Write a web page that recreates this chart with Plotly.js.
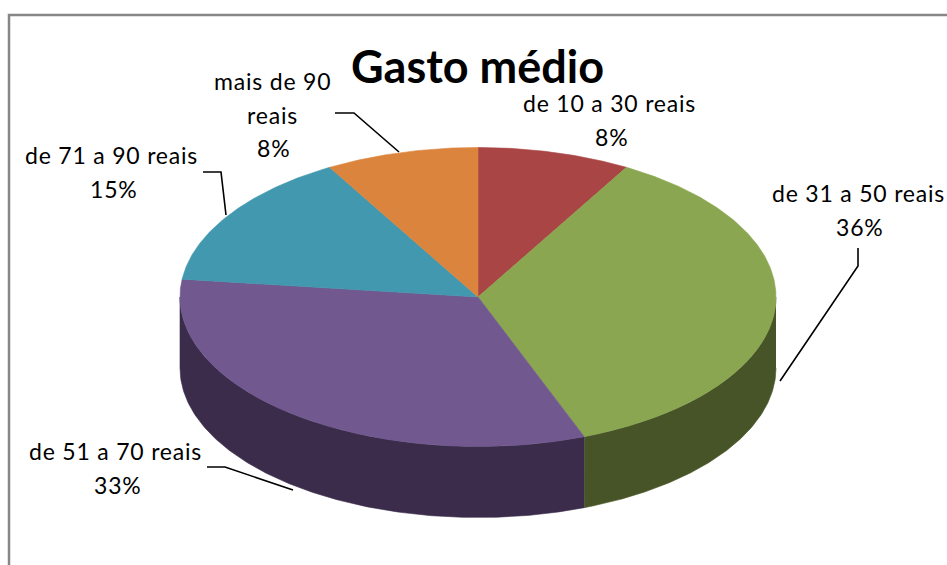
<!DOCTYPE html>
<html><head><meta charset="utf-8">
<script src="https://cdn.plot.ly/plotly-3.0.1.min.js"></script>
<style>html,body{margin:0;padding:0;background:#fff}#c{width:947px;height:565px}
.annotation-text{letter-spacing:.8px}</style>
</head><body><div id="c"></div>
<script>
const categories = ["de 10 a 30 reais","de 31 a 50 reais","de 51 a 70 reais","de 71 a 90 reais","mais de 90 reais"];
const values = [8.3,35.9,32.7,14.8,8.3];
const topColors = ["#A94645","#8AA650","#71588F","#4198AF","#DB843D"];
const sideColors = ["#5F2726","#475427","#3A2C4A","#215060","#7A4A22"];
const labelLines = [["de 10 a 30 reais"],["de 31 a 50 reais"],["de 51 a 70 reais"],["de 71 a 90 reais"],["mais de 90","reais"]];
const labelAnchor = [[609.5,103],[858,193],[115.5,451],[111.5,155],[272,81]];
const percentShift = [2,2,2,2,1];
const linePitch = 33.5;
const leaders = [null,[[858,248],[858,266],[780,381]],[[207,467],[225,467],[293,490]],[[203,172],[221,172],[226,215]],[[335,113],[354,113],[399,152]]];

const cx=478, cy=297, rx=298, ry=149.5, depth=71;
const px=a=>cx+rx*Math.sin(a), py=a=>cy-ry*Math.cos(a);
const total=values.reduce((s,v)=>s+v,0);
const traces=[];
function arc(a0,a1){const n=Math.max(2,Math.ceil((a1-a0)/0.01));const out=[];for(let i=0;i<=n;i++)out.push(a0+(a1-a0)*i/n);return out;}
let cum=0; const spans=values.map(v=>{const a0=cum/total*2*Math.PI;cum+=v;return [a0,cum/total*2*Math.PI];});
spans.forEach((s,i)=>{
  const a0=Math.max(s[0],Math.PI/2), a1=Math.min(s[1],3*Math.PI/2);
  if(a1<=a0) return;
  const A=arc(a0,a1);
  traces.push({x:A.map(px).concat(A.slice().reverse().map(px)),
    y:A.map(a=>py(a)+depth).concat(A.slice().reverse().map(py)),
    mode:'lines',fill:'toself',fillcolor:sideColors[i],line:{width:0.6,color:sideColors[i]},hoverinfo:'skip',name:categories[i]});
});
spans.forEach((s,i)=>{
  const A=arc(s[0],s[1]);
  traces.push({x:[cx].concat(A.map(px),[cx]),y:[cy].concat(A.map(py),[cy]),
    mode:'lines',fill:'toself',fillcolor:topColors[i],line:{width:0.6,color:topColors[i]},hoverinfo:'skip',name:categories[i]});
});
leaders.forEach(l=>{ if(l) traces.push({x:l.map(p=>p[0]),y:l.map(p=>p[1]),mode:'lines',line:{color:'#000',width:1.6},hoverinfo:'skip'}); });

const annotations=[];
labelLines.forEach((ls,i)=>{
  ls.concat([Math.round(values[i])+'%']).forEach((t,j)=>annotations.push({x:labelAnchor[i][0]+(j===ls.length?percentShift[i]:0),y:labelAnchor[i][1]+j*linePitch,xref:'x',yref:'y',showarrow:false,
    text:t,align:'center',xanchor:'center',yanchor:'middle',font:{family:'Lato, sans-serif',size:23,color:'#000'}}));
});
const layout={width:947,height:565,margin:{l:0,r:0,t:0,b:0},paper_bgcolor:'#fff',plot_bgcolor:'#fff',showlegend:false,
  title:{text:'Gasto médio',x:477.5/947,xanchor:'center',y:1-67/565,yanchor:'middle',font:{family:'Lato, sans-serif',size:45,color:'#000',weight:700}},
  xaxis:{range:[0,947],visible:false,fixedrange:true},yaxis:{range:[565,0],visible:false,fixedrange:true},
  shapes:[{type:'rect',xref:'x',yref:'y',x0:9,y0:15,x1:980,y1:600,line:{color:'#868686',width:2.5},fillcolor:'rgba(0,0,0,0)',layer:'below'}],
  annotations};
Plotly.newPlot('c',traces,layout,{displayModeBar:false,staticPlot:true});
</script></body></html>
